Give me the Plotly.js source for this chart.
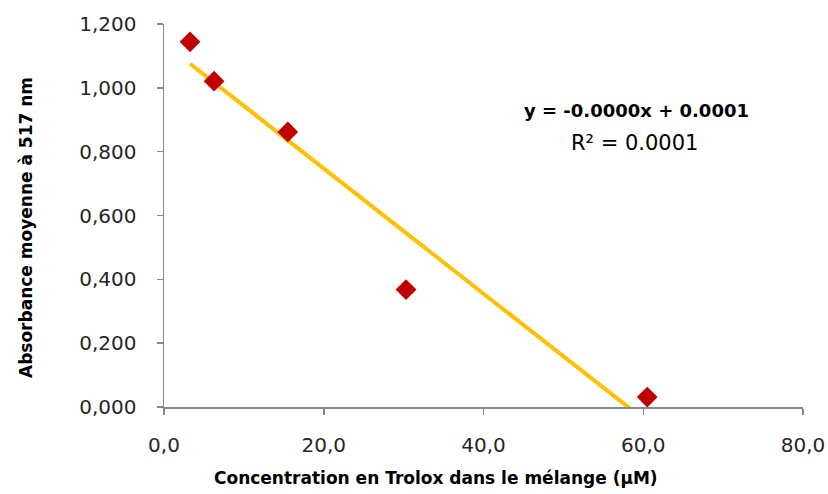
<!DOCTYPE html>
<html>
<head>
<meta charset="utf-8">
<script src="https://cdn.plot.ly/plotly-3.0.1.min.js"></script>
<style>html,body{margin:0;padding:0;background:#fff;}#chart{width:828px;height:494px;}</style>
</head>
<body>
<div id="chart"></div>
<script>
// Data
const concentrations = [3.26, 6.27, 15.5, 30.3, 60.5];   // µM Trolox
const absorbances    = [1.144, 1.021, 0.862, 0.368, 0.031];
const equationText = "y = -0.0000x + 0.0001";
const r2Text = "R² = 0.0001";
const xTitle = "Concentration en Trolox dans le mélange (µM)";
const yTitle = "Absorbance moyenne à 517 nm";
const xTicks = [0, 20, 40, 60, 80];
const yTicks = [0, 0.2, 0.4, 0.6, 0.8, 1.0, 1.2];

// Linear least-squares trendline from the data (as Excel draws it)
function linFit(xs, ys) {
  const n = xs.length;
  const mx = xs.reduce((a, b) => a + b, 0) / n;
  const my = ys.reduce((a, b) => a + b, 0) / n;
  let sxx = 0, sxy = 0;
  for (let i = 0; i < n; i++) { sxx += (xs[i] - mx) ** 2; sxy += (xs[i] - mx) * (ys[i] - my); }
  const m = sxy / sxx;
  return { m: m, b: my - m * mx };
}
const fit = linFit(concentrations, absorbances);
const xMin = Math.min(...concentrations), xMax = Math.max(...concentrations);
const trendX = [xMin, xMax];
const trendY = trendX.map(x => fit.m * x + fit.b);

const font = "DejaVu Sans, sans-serif";
const axisColor = "#868686";
const W = 828, H = 494, L = 164, R = 25, T = 24, B = 87;
const pw = W - L - R, ph = H - T - B;
const px = v => (v - L) / pw;          // paper x from pixel
const py = v => (H - B - v) / ph;      // paper y from pixel

const traces = [
  {
    x: trendX, y: trendY, type: "scatter", mode: "lines",
    line: { color: "#FFC000", width: 4 }, hoverinfo: "skip", showlegend: false
  },
  {
    x: concentrations, y: absorbances, type: "scatter", mode: "markers",
    marker: { symbol: "diamond", size: 16, color: "#C00000", line: { width: 0 } },
    showlegend: false
  }
];

const layout = {
  width: W, height: H,
  margin: { l: L, r: R, t: T, b: B },
  paper_bgcolor: "#ffffff", plot_bgcolor: "#ffffff",
  separators: ",.",
  showlegend: false,
  xaxis: {
    range: [0, 80], tickvals: xTicks, tickformat: ".1f",
    showgrid: false, zeroline: false,
    showline: true, linecolor: axisColor, linewidth: 1.5,
    ticks: "outside", ticklen: 6, tickwidth: 1.5, tickcolor: axisColor,
    ticklabelstandoff: 13,
    tickfont: { family: font, size: 20, color: "#262626" }
  },
  yaxis: {
    range: [0, 1.2], tickvals: yTicks, tickformat: ".3f",
    showgrid: false, zeroline: false,
    showline: true, linecolor: axisColor, linewidth: 1.5,
    ticks: "outside", ticklen: 6, tickwidth: 1.5, tickcolor: axisColor,
    ticklabelstandoff: 16,
    tickfont: { family: font, size: 20, color: "#262626" }
  },
  annotations: [
    { xref: "paper", yref: "paper", x: px(636), y: py(110),
      text: "<b>" + equationText + "</b>", showarrow: false,
      font: { family: font, size: 18, color: "#000000" }, xanchor: "center", yanchor: "middle" },
    { xref: "paper", yref: "paper", x: px(634), y: py(143),
      text: r2Text, showarrow: false,
      font: { family: font, size: 21, color: "#000000" }, xanchor: "center", yanchor: "middle" },
    { xref: "paper", yref: "paper", x: px(436), y: py(478),
      text: "<b>" + xTitle + "</b>", showarrow: false,
      font: { family: font, size: 17, color: "#000000" }, xanchor: "center", yanchor: "middle" },
    { xref: "paper", yref: "paper", x: px(26), y: py(228),
      text: "<b>" + yTitle + "</b>", showarrow: false, textangle: -90,
      font: { family: font, size: 17, color: "#000000" }, xanchor: "center", yanchor: "middle" }
  ]
};

Plotly.newPlot("chart", traces, layout, { displayModeBar: false, staticPlot: true });
</script>
</body>
</html>
